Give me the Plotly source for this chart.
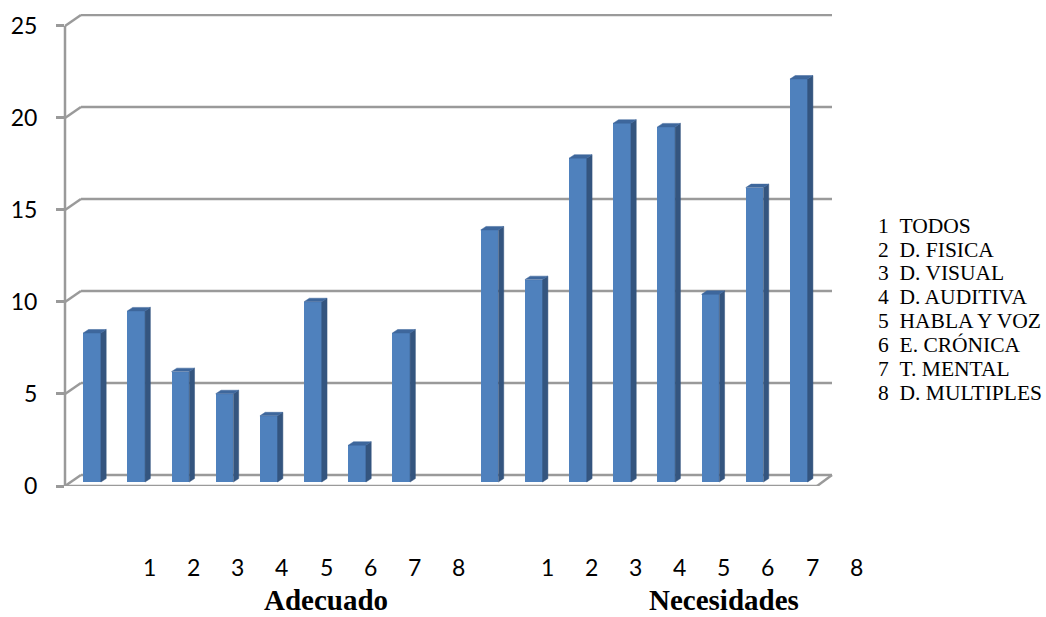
import plotly.graph_objects as go

# ---- data -------------------------------------------------------------
groups = ["Adecuado", "Necesidades"]
item_numbers = ["1", "2", "3", "4", "5", "6", "7", "8"]
item_names = ["TODOS", "D. FISICA", "D. VISUAL", "D. AUDITIVA",
              "HABLA Y VOZ", "E. CRÓNICA", "T. MENTAL", "D. MULTIPLES"]
adecuado = [8.1, 9.3, 6.0, 4.8, 3.6, 9.8, 2.0, 8.1]
necesidades = [13.7, 11.0, 17.6, 19.5, 19.3, 10.2, 16.0, 21.9]
y_ticks = [0, 5, 10, 15, 20, 25]

# ---- geometry of the pseudo-3D frame ----------------------------------
W, H = 1046, 617
ML, MR, MT, MB = 61, 214, 11, 131
plot_w = W - ML - MR
plot_h = H - MT - MB
y_max = 25.65
px_per_unit = plot_h / y_max
x_range = [-0.6126, 16.752]

depth_x = 16 / plot_w              # wall depth, paper fraction
depth_y = 11 / px_per_unit         # wall depth, value units
bar_base = 4 / px_per_unit         # bars stand slightly behind the front edge
bar_w = 0.40
side_dx = 0.12
side_dy = 3.5 / px_per_unit
floor_right = (817 - ML) / plot_w

front_col = "#4F81BD"
side_col = "#34557F"
top_col = "#3E679C"
grid_col = "#9A9A9A"
serif = "Liberation Serif, Times New Roman, serif"


def x_to_paper(x):
    return (x - x_range[0]) / (x_range[1] - x_range[0])


slot = 9                            # 8 bars + one empty slot per group
series = [adecuado, necesidades]
xs, ys = [], []
for g, vals in enumerate(series):
    for i, v in enumerate(vals):
        xs.append(g * slot + i)
        ys.append(v)

fig = go.Figure()

# front faces
fig.add_trace(go.Bar(
    x=xs, y=ys, base=bar_base, width=bar_w,
    marker=dict(color=front_col, line=dict(width=0)),
    hoverinfo="skip", showlegend=False,
))

# side and top faces built from the same values
sx, sy, tx, ty = [], [], [], []
for x, v in zip(xs, ys):
    r = x + bar_w / 2
    l = x - bar_w / 2
    top = bar_base + v
    sx += [r, r + side_dx, r + side_dx, r, r, None]
    sy += [bar_base, bar_base + side_dy, top + side_dy, top, bar_base, None]
    tx += [l, l + side_dx, r + side_dx, r, l, None]
    ty += [top, top + side_dy, top + side_dy, top, top, None]

fig.add_trace(go.Scatter(x=sx, y=sy, mode="lines", fill="toself",
                         fillcolor=side_col, line=dict(width=0.5, color=side_col),
                         hoverinfo="skip", showlegend=False))
fig.add_trace(go.Scatter(x=tx, y=ty, mode="lines", fill="toself",
                         fillcolor=top_col, line=dict(width=0.5, color=top_col),
                         hoverinfo="skip", showlegend=False))

# back wall gridlines and left wall slants
shapes = []
line_style = dict(color=grid_col, width=2.5)
for k in y_ticks:
    shapes.append(dict(type="line", xref="paper", yref="y", layer="below",
                       x0=0, y0=k, x1=depth_x, y1=k + depth_y, line=line_style))
    shapes.append(dict(type="line", xref="paper", yref="y", layer="below",
                       x0=depth_x, y0=k + depth_y, x1=1, y1=k + depth_y,
                       line=line_style))
# vertical axis line and floor front/right edges
shapes.append(dict(type="line", xref="paper", yref="y", layer="below",
                   x0=0, y0=0, x1=0, y1=y_ticks[-1], line=line_style))
shapes.append(dict(type="line", xref="paper", yref="y", layer="below",
                   x0=0, y0=0, x1=floor_right, y1=0, line=line_style))
shapes.append(dict(type="line", xref="paper", yref="y", layer="below",
                   x0=floor_right, y0=0, x1=1, y1=depth_y, line=line_style))

annotations = []

# category numbers under each group
tick_shift = 1.3
for x, num in zip(xs, item_numbers * len(groups)):
    annotations.append(dict(
        x=x_to_paper(x + tick_shift), xref="paper",
        y=(486 - 568) / plot_h, yref="paper",
        text=num, showarrow=False, xanchor="center", yanchor="middle",
        font=dict(family="Lato", size=23, color="black"),
    ))

# group titles
group_shift = 1.8
for g, name in enumerate(groups):
    center = g * slot + (len(item_numbers) - 1) / 2 + group_shift
    annotations.append(dict(
        x=x_to_paper(center), xref="paper",
        y=(486 - 601) / plot_h, yref="paper",
        text=f"<b>{name}</b>", showarrow=False, xanchor="center", yanchor="middle",
        font=dict(family=serif, size=29, color="black"),
    ))

# side list of categories
for i, (num, name) in enumerate(zip(item_numbers, item_names)):
    ypx = 224 + 24 * i
    annotations.append(dict(
        x=(876 - ML) / plot_w, xref="paper", y=(486 - ypx) / plot_h, yref="paper",
        text=f"{num}\u00a0\u00a0{name}", showarrow=False,
        xanchor="left", yanchor="middle",
        font=dict(family=serif, size=21.5, color="black"),
    ))

fig.update_layout(
    width=W, height=H, autosize=False,
    margin=dict(l=ML, r=MR, t=MT, b=MB),
    paper_bgcolor="white", plot_bgcolor="white",
    shapes=shapes, annotations=annotations,
    bargap=0,
    xaxis=dict(range=x_range, showgrid=False, zeroline=False,
               showline=False, showticklabels=False, ticks="",
               fixedrange=True),
    yaxis=dict(range=[0, y_max], showgrid=False, zeroline=False,
               showline=False, tickmode="array", tickvals=y_ticks,
               ticks="outside", ticklen=8, tickwidth=2.5, tickcolor=grid_col,
               ticklabelstandoff=14,
               tickfont=dict(family="Lato", size=23, color="black"),
               fixedrange=True),
)

fig.write_html("out.html")
